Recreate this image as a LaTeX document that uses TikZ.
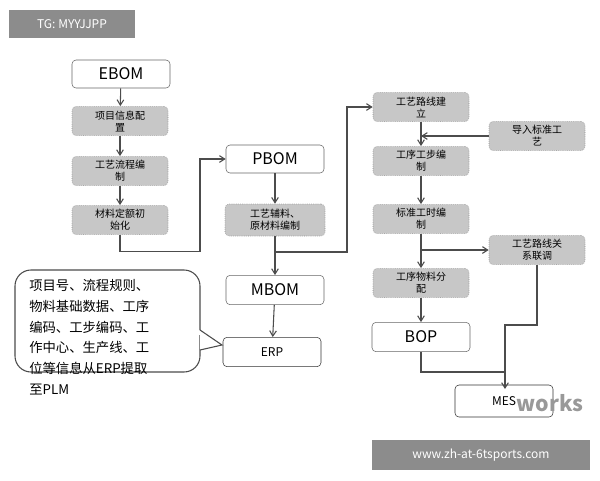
\documentclass[tikz,border=0pt]{standalone}
\usepackage{fontspec}
\setmainfont{Noto Sans CJK SC}
\usetikzlibrary{arrows.meta}
\begin{document}
\begin{tikzpicture}[x=0.75pt,y=-0.75pt,
  wbox/.style={draw=black!60,rounded corners=3pt,fill=white,minimum width=73.5pt,minimum height=21pt,inner sep=1pt,font=\fontsize{12}{12}\selectfont},
  gbox/.style={draw=black!45,densely dotted,rounded corners=3pt,fill=black!22,minimum width=72pt,minimum height=22pt,inner sep=1pt,align=center,font=\fontsize{7.5}{9}\selectfont},
  ar/.style={draw=black!70,line width=0.8pt,-{Straight Barb[length=4pt,width=5pt]}},
  ln/.style={draw=black!70,line width=0.8pt}]
\useasboundingbox (0,0) rectangle (600,480);
\node[fill=black!45,text=white,minimum width=94pt,minimum height=21pt,font=\fontsize{9}{9}\selectfont] (tg) at (72,24) {TG: MYYJJPP};
\node[fill=black!45,text=white,minimum width=163pt,minimum height=22pt,font=\fontsize{9}{9}\selectfont] (www) at (481,455) {www.zh-at-6tsports.com};

\node[wbox] (ebom) at (121,74) {EBOM};
\node[gbox] (a1) at (120,121) {项目信息配\\置};
\node[gbox] (a2) at (120,171) {工艺流程编\\制};
\node[gbox] (a3) at (120,220) {材料定额初\\始化};
\node[wbox] (pbom) at (275,159) {PBOM};
\node[gbox,minimum width=75pt,minimum height=24pt] (b1) at (275,220) {工艺辅料、\\原材料编制};
\node[wbox,minimum height=22pt] (mbom) at (275,290) {MBOM};
\node[wbox,minimum height=22pt,draw=black!80,font=\fontsize{9}{9}\selectfont] (erp) at (272,352) {ERP};
\node[gbox] (c1) at (421,107) {工艺路线建\\立};
\node[gbox] (d1) at (537,136) {导入标准工\\艺};
\node[gbox] (c2) at (421,161) {工序工步编\\制};
\node[gbox] (c3) at (421,219) {标准工时编\\制};
\node[gbox] (d2) at (537,250) {工艺路线关\\系联调};
\node[gbox] (c4) at (421,283) {工序物料分\\配};
\node[wbox,minimum height=22pt] (bop) at (421,337) {BOP};
\node[wbox,minimum height=24pt,draw=black!80,font=\fontsize{9}{9}\selectfont] (mes) at (504,401) {MES};
\node[font=\itshape\bfseries\fontsize{16}{16}\selectfont,text=black!40] (wm) at (550,403) {works};

% callout
\draw[draw=black!70,line width=0.8pt,rounded corners=12pt,fill=white] (200,335) -- (200,372) -- (15,372) -- (15,270) -- (200,270) -- (200,330);
\draw[draw=black!70,line width=0.8pt,fill=white] (200,330) -- (222,345) -- (200,350);
\node[anchor=north west,align=left,inner sep=0pt,font=\fontsize{10}{15.6}\selectfont] (ct) at (29,279) {项目号、流程规则、\\物料基础数据、工序\\编码、工步编码、工\\作中心、生产线、工\\位等信息从ERP提取\\至PLM};

\draw[ar] (ebom) -- (a1);
\draw[ar] (a1) -- (a2);
\draw[ar] (a2) -- (a3);
\draw[ar] (a3.south) -- ++(0,17) -| (200,159) -- (pbom.west);
\draw[ar] (pbom) -- (b1);
\draw[ar] (b1) -- (mbom);
\draw[ar] (mbom) -- (erp);
\draw[ar] (b1.south) |- (347,252) |- (c1.west);
\draw[ar] (c1) -- (c2);
\draw[ar] (d1.west) -- (421,136);
\draw[ar] (c2) -- (c3);
\draw[ar] (c3) -- (c4);
\draw[ar] (c3.south) |- (d2.west);
\draw[ar] (c4) -- (bop);
\draw[ln] (bop.south) |- (505,372);
\draw[ar] (d2.south) |- (505,325) -- (505,389);
\end{tikzpicture}
\end{document}
